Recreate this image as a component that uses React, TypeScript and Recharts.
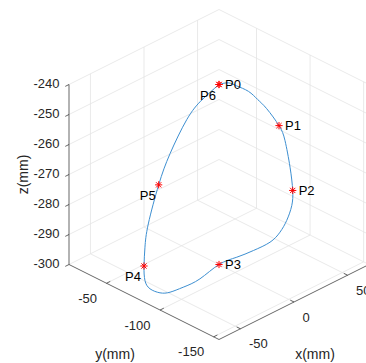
import React from "react";
import { ComposedChart, Scatter, XAxis, YAxis, ReferenceLine } from "recharts";

// axis limits and ticks (mm)
const xLim = [-70, 70];
const yLim = [-155, -15];
const zLim = [-300, -240];
const xTicks = [-50, 0, 50];
const yTicks = [-150, -100, -50];
const zTicks = [-300, -290, -280, -270, -260, -250, -240];

// foot trajectory (mm)
const pathX = [0, 8.7, 16.5, 27.5, 36, 44.5, 56, 61.6, 66.3, 68.8, 67.9, 63.2, 56.9, 44.6, 29.1, 15.1, 0, -22.3, -37.9, -48.7, -55.1, -64.4, -69.1, -70, -69.1, -66, -56.3, -45.7, -30, -16, 0];
const pathY = [-85, -85, -85, -85, -85, -85, -85, -85, -85, -85, -85, -85, -85, -88, -88, -86.5, -85, -89.5, -89.5, -88, -85, -85, -85, -85, -85, -85, -85, -85, -85, -85, -85];
const pathZ = [-240, -241, -243.4, -247.2, -251.4, -256, -263.7, -269.7, -279.4, -287.6, -292.5, -296.6, -299.4, -300, -300, -300, -300, -300, -300, -300, -299.6, -296.6, -293, -288, -281.9, -274.7, -263.4, -254.9, -246.3, -242.3, -240];

// via points
const pointNames = ["P0", "P1", "P2", "P3", "P4", "P5", "P6"];
const pointX = [0, 56, 68.8, 0, -70, -56.3, 0];
const pointY = [-85, -85, -85, -85, -85, -85, -85];
const pointZ = [-240, -263.7, -287.6, -300, -288, -263.4, -240];

// view: az -45 / el 30 style box, chart wider than the window so the right edge is cut like the original
const W = 420;
const H = 363;
const OX = 219; // front-bottom corner, px
const OY = 339.5;
const S = 150; // px per projected unit
const RISE = 0.5;
const ZR = 1.2;

const norm = (v: number, lim: number[]) => (v - lim[0]) / (lim[1] - lim[0]);
const proj = (x: number, y: number, z: number) => {
  const xn = norm(x, xLim);
  const yn = norm(y, yLim);
  const zn = norm(z, zLim);
  return { h: xn - yn, v: RISE * (xn + yn) + ZR * zn };
};
const seg = (a: number[], b: number[]) => {
  const p = proj(a[0], a[1], a[2]);
  const q = proj(b[0], b[1], b[2]);
  return [{ x: p.h, y: p.v }, { x: q.h, y: q.v }];
};

const [x0, x1] = xLim;
const [y0, y1] = yLim;
const [z0, z1] = zLim;
const tickX = (x1 - x0) * 0.025;
const tickY = (y1 - y0) * 0.025;

const gridSegs = [
  ...xTicks.map((t) => seg([t, y0, z0], [t, y1, z0])),
  ...yTicks.map((t) => seg([x0, t, z0], [x1, t, z0])),
  ...xTicks.map((t) => seg([t, y1, z0], [t, y1, z1])),
  ...zTicks.map((t) => seg([x0, y1, t], [x1, y1, t])),
  ...yTicks.map((t) => seg([x1, t, z0], [x1, t, z1])),
  ...zTicks.map((t) => seg([x1, y0, t], [x1, y1, t])),
];

const axisSegs = [
  seg([x0, y1, z0], [x0, y1, z1]),
  seg([x0, y0, z0], [x0, y1, z0]),
  seg([x0, y0, z0], [x1, y0, z0]),
  ...zTicks.map((t) => seg([x0, y1, t], [x0 - tickX, y1, t])),
  ...yTicks.map((t) => seg([x0, t, z0], [x0 + tickX, t, z0])),
  ...xTicks.map((t) => seg([t, y0, z0], [t, y0 + tickY, z0])),
];

const pathData = pathX.map((x, i) => proj(x, pathY[i], pathZ[i]));
const pointData = pointNames.map((name, i) => ({ name, ...proj(pointX[i], pointY[i], pointZ[i]) }));
const zTickData = zTicks.map((t) => ({ label: String(t), ...proj(x0, y1, t) }));
const yTickData = yTicks.map((t) => ({ label: String(t), ...proj(x0, t, z0) }));
const xTickData = xTicks.map((t) => ({ label: String(t), ...proj(t, y0, z0) }));
const titleData = [
  { label: "z(mm)", kind: "z", ...proj(x0, y1, (z0 + z1) / 2) },
  { label: "y(mm)", kind: "y", ...proj(x0, (y0 + y1) / 2, z0) },
  { label: "x(mm)", kind: "x", ...proj((x0 + x1) / 2, y0, z0) },
];

const FONT = "'Liberation Sans', Arial, Helvetica, sans-serif";
const INK = "#262626";

const hDomain = [-OX / S, (W - OX) / S];
const vDomain = [(OY - H) / S, OY / S];

const Empty = () => <g />;

const Star = (props: any) => {
  const { cx, cy } = props;
  const r = 3.6;
  const d = 2.6;
  return (
    <g stroke="#ff0000" strokeWidth={1}>
      <line x1={cx - r} y1={cy} x2={cx + r} y2={cy} />
      <line x1={cx} y1={cy - r} x2={cx} y2={cy + r} />
      <line x1={cx - d} y1={cy - d} x2={cx + d} y2={cy + d} />
      <line x1={cx - d} y1={cy + d} x2={cx + d} y2={cy - d} />
    </g>
  );
};

const PointLabel = (props: any) => {
  const { cx, cy, payload } = props;
  const left = ["P4", "P5", "P6"].includes(payload.name);
  return (
    <text
      x={left ? cx - 3 : cx + 6}
      y={left ? cy + 10.5 : cy}
      textAnchor={left ? "end" : "start"}
      dominantBaseline="central"
      fontFamily={FONT}
      fontSize={13}
      fill="#000"
    >
      {payload.name}
    </text>
  );
};

const ZTick = (props: any) => (
  <text x={props.cx - 9.5} y={props.cy - 1.5} textAnchor="end" dominantBaseline="central" fontFamily={FONT} fontSize={13} fill={INK}>
    {props.payload.label}
  </text>
);

const YTick = (props: any) => (
  <text x={props.cx - 9.5} y={props.cy + 15} textAnchor="end" dominantBaseline="central" fontFamily={FONT} fontSize={13} fill={INK}>
    {props.payload.label}
  </text>
);

const XTick = (props: any) => (
  <text x={props.cx + 8.5} y={props.cy + 15} textAnchor="start" dominantBaseline="central" fontFamily={FONT} fontSize={13} fill={INK}>
    {props.payload.label}
  </text>
);

const Title = (props: any) => {
  const { cx, cy, payload } = props;
  if (payload.kind === "z") {
    const x = cx - 46;
    return (
      <text x={x} y={cy} transform={`rotate(-90 ${x} ${cy})`} textAnchor="middle" dominantBaseline="central" fontFamily={FONT} fontSize={14} fill={INK}>
        {payload.label}
      </text>
    );
  }
  const dx = payload.kind === "y" ? -29 : 21;
  return (
    <text x={cx + dx} y={cy + 52} textAnchor="middle" dominantBaseline="central" fontFamily={FONT} fontSize={14} fill={INK}>
      {payload.label}
    </text>
  );
};

export default function App() {
  return (
    <div style={{ position: "absolute", left: 0, top: 0, width: 366, height: 363, overflow: "hidden", background: "#fff" }}>
      <ComposedChart width={W} height={H} margin={{ top: 0, right: 0, bottom: 0, left: 0 }}>
        <XAxis type="number" dataKey="h" domain={hDomain} allowDataOverflow hide />
        <YAxis type="number" dataKey="v" domain={vDomain} allowDataOverflow hide />
        {gridSegs.map((s, i) => (
          <ReferenceLine key={`g${i}`} segment={s} stroke="#e3e3e3" strokeWidth={0.8} ifOverflow="visible" />
        ))}
        {axisSegs.map((s, i) => (
          <ReferenceLine key={`a${i}`} segment={s} stroke={INK} strokeWidth={0.7} ifOverflow="visible" />
        ))}
        <Scatter
          data={pathData}
          line={{ stroke: "#3d8fd1", strokeWidth: 1 }}
          lineJointType="natural"
          shape={Empty}
          isAnimationActive={false}
        />
        <Scatter data={pointData} shape={Star} isAnimationActive={false} />
        <Scatter data={pointData} shape={PointLabel} isAnimationActive={false} />
        <Scatter data={zTickData} shape={ZTick} isAnimationActive={false} />
        <Scatter data={yTickData} shape={YTick} isAnimationActive={false} />
        <Scatter data={xTickData} shape={XTick} isAnimationActive={false} />
        <Scatter data={titleData} shape={Title} isAnimationActive={false} />
      </ComposedChart>
    </div>
  );
}
